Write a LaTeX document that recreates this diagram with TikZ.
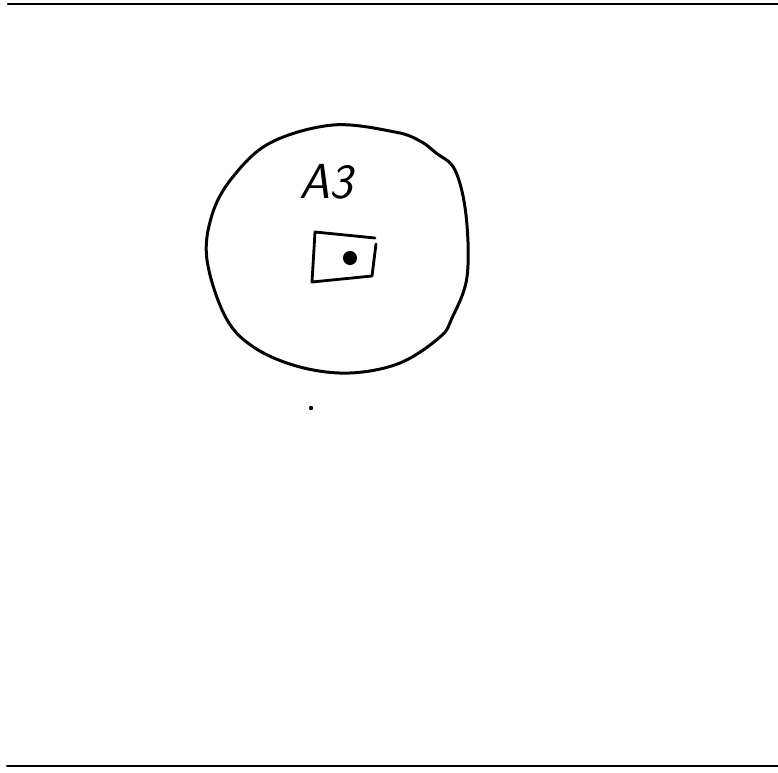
\documentclass[tikz,border=0pt]{standalone}
\usepackage{tikz}
\usetikzlibrary{positioning,calc}

\begin{document}
\begin{tikzpicture}[x=0.02cm,y=-0.02cm,line cap=round,line join=round]
    % Page frame
    \useasboundingbox[fill=white] (0, 0) rectangle (778, 773);
    \draw[line width=1.2pt] (8, 4) -- (778, 4);
    \draw[line width=1.2pt] (7, 766) -- (778, 766);

    % Region outline
    \draw[line width=1.7pt] plot[smooth cycle,tension=0.6] coordinates {
        (333,125) (395,132) (420,141) (436,153) (455,170) (466,215)
        (467,277) (452,318) (440,337) (400,363) (350,373) (300,367)
        (255,348) (226,318) (207,260) (212,215) (232,178) (270,143)};

    % Region label
    \node[font=\sffamily\itshape\fontsize{28}{28}\selectfont] (lbl) at (326, 182) {A3};

    % Square with point
    \draw[line width=1.6pt] (376,244) -- (372,276) -- (312,282) -- (315,232) -- (375,238);
    \node[circle,fill,inner sep=0pt,minimum size=8pt] (pt) at (350, 258) {};

    % Stray mark
    \node[circle,fill,inner sep=0pt,minimum size=2.5pt] (mark) at (311, 408) {};
\end{tikzpicture}
\end{document}
